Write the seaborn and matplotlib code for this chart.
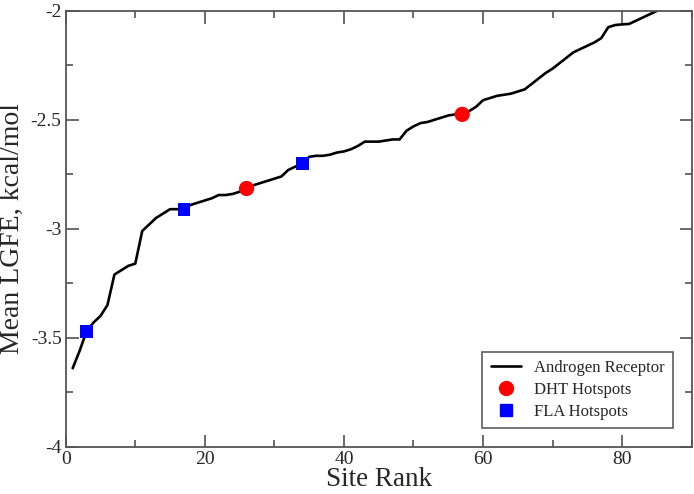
import matplotlib
matplotlib.use("Agg")
import matplotlib.pyplot as plt
import seaborn as sns
import pandas as pd
from matplotlib.ticker import MultipleLocator
from matplotlib.lines import Line2D

site_rank = list(range(1, 86))
mean_lgfe = [
    -3.64, -3.56, -3.47, -3.43, -3.40, -3.35, -3.21, -3.19, -3.17, -3.16,
    -3.01, -2.98, -2.95, -2.93, -2.91, -2.91, -2.91, -2.89, -2.88, -2.87,
    -2.86, -2.845, -2.845, -2.84, -2.83, -2.815, -2.80, -2.79, -2.78, -2.77,
    -2.76, -2.73, -2.715, -2.70, -2.67, -2.665, -2.665, -2.66, -2.65, -2.645,
    -2.635, -2.62, -2.60, -2.60, -2.60, -2.595, -2.59, -2.59, -2.55, -2.53,
    -2.515, -2.51, -2.50, -2.49, -2.48, -2.475, -2.475, -2.46, -2.44, -2.41,
    -2.40, -2.39, -2.385, -2.38, -2.37, -2.36, -2.335, -2.31, -2.285, -2.265,
    -2.24, -2.215, -2.19, -2.175, -2.16, -2.145, -2.125, -2.075, -2.065, -2.062,
    -2.06, -2.045, -2.03, -2.015, -2.00,
]
dht_rank = [26, 57]
dht_lgfe = [-2.815, -2.475]
fla_rank = [3, 17, 34]
fla_lgfe = [-3.47, -2.91, -2.70]

sns.set_theme(style="ticks")
plt.rcParams["font.family"] = ["Liberation Serif", "DejaVu Serif"]

fig = plt.figure(figsize=(6.94, 4.94), dpi=100)
ax = fig.add_axes([0.0947, 0.0957, 0.902, 0.8823])

df = pd.DataFrame({"rank": site_rank, "lgfe": mean_lgfe})
sns.lineplot(data=df, x="rank", y="lgfe", ax=ax, color="black", linewidth=1.9)
sns.scatterplot(x=dht_rank, y=dht_lgfe, ax=ax, color="#ff0000", marker="o",
                s=120, edgecolor="none", zorder=5)
sns.scatterplot(x=fla_rank, y=fla_lgfe, ax=ax, color="#0000ff", marker="s",
                s=85, edgecolor="none", zorder=5)

ax.set_xlim(0, 90)
ax.set_ylim(-4, -2)
ax.xaxis.set_minor_locator(MultipleLocator(10))
ax.yaxis.set_minor_locator(MultipleLocator(0.25))
ax.set_xticks([0, 20, 40, 60, 80])
ax.set_xticklabels(["0", "20", "40", "60", "80"])
ax.set_yticks([-4, -3.5, -3, -2.5, -2])
ax.set_yticklabels(["-4", "-3.5", "-3", "-2.5", "-2"])
ax.tick_params(which="both", direction="in", top=True, right=True,
               color="#444444", labelsize=14, pad=3)
ax.tick_params(which="major", length=9, width=1.1)
ax.tick_params(which="minor", length=5, width=1.1)
for s in ax.spines.values():
    s.set_color("#555555")
    s.set_linewidth(1.3)

ax.set_xlabel("Site Rank", fontsize=19.5, labelpad=-1)
ax.set_ylabel("Mean LGFE, kcal/mol", fontsize=20, labelpad=4)

handles = [
    Line2D([0], [0], color="black", lw=1.9),
    Line2D([0], [0], color="#ff0000", marker="o", ls="none", markersize=10),
    Line2D([0], [0], color="#0000ff", marker="s", ls="none", markersize=8),
]
leg = ax.legend(handles, ["Androgen Receptor", "DHT Hotspots", "FLA Hotspots"],
                loc="lower right", bbox_to_anchor=(0.970, 0.043), borderaxespad=0,
                fontsize=12, frameon=True, fancybox=False, handlelength=1.8,
                labelspacing=0.35, borderpad=0.5)
leg.get_frame().set_edgecolor("#333333")
leg.get_frame().set_linewidth(1.2)

fig.savefig("out.png", dpi=100)
